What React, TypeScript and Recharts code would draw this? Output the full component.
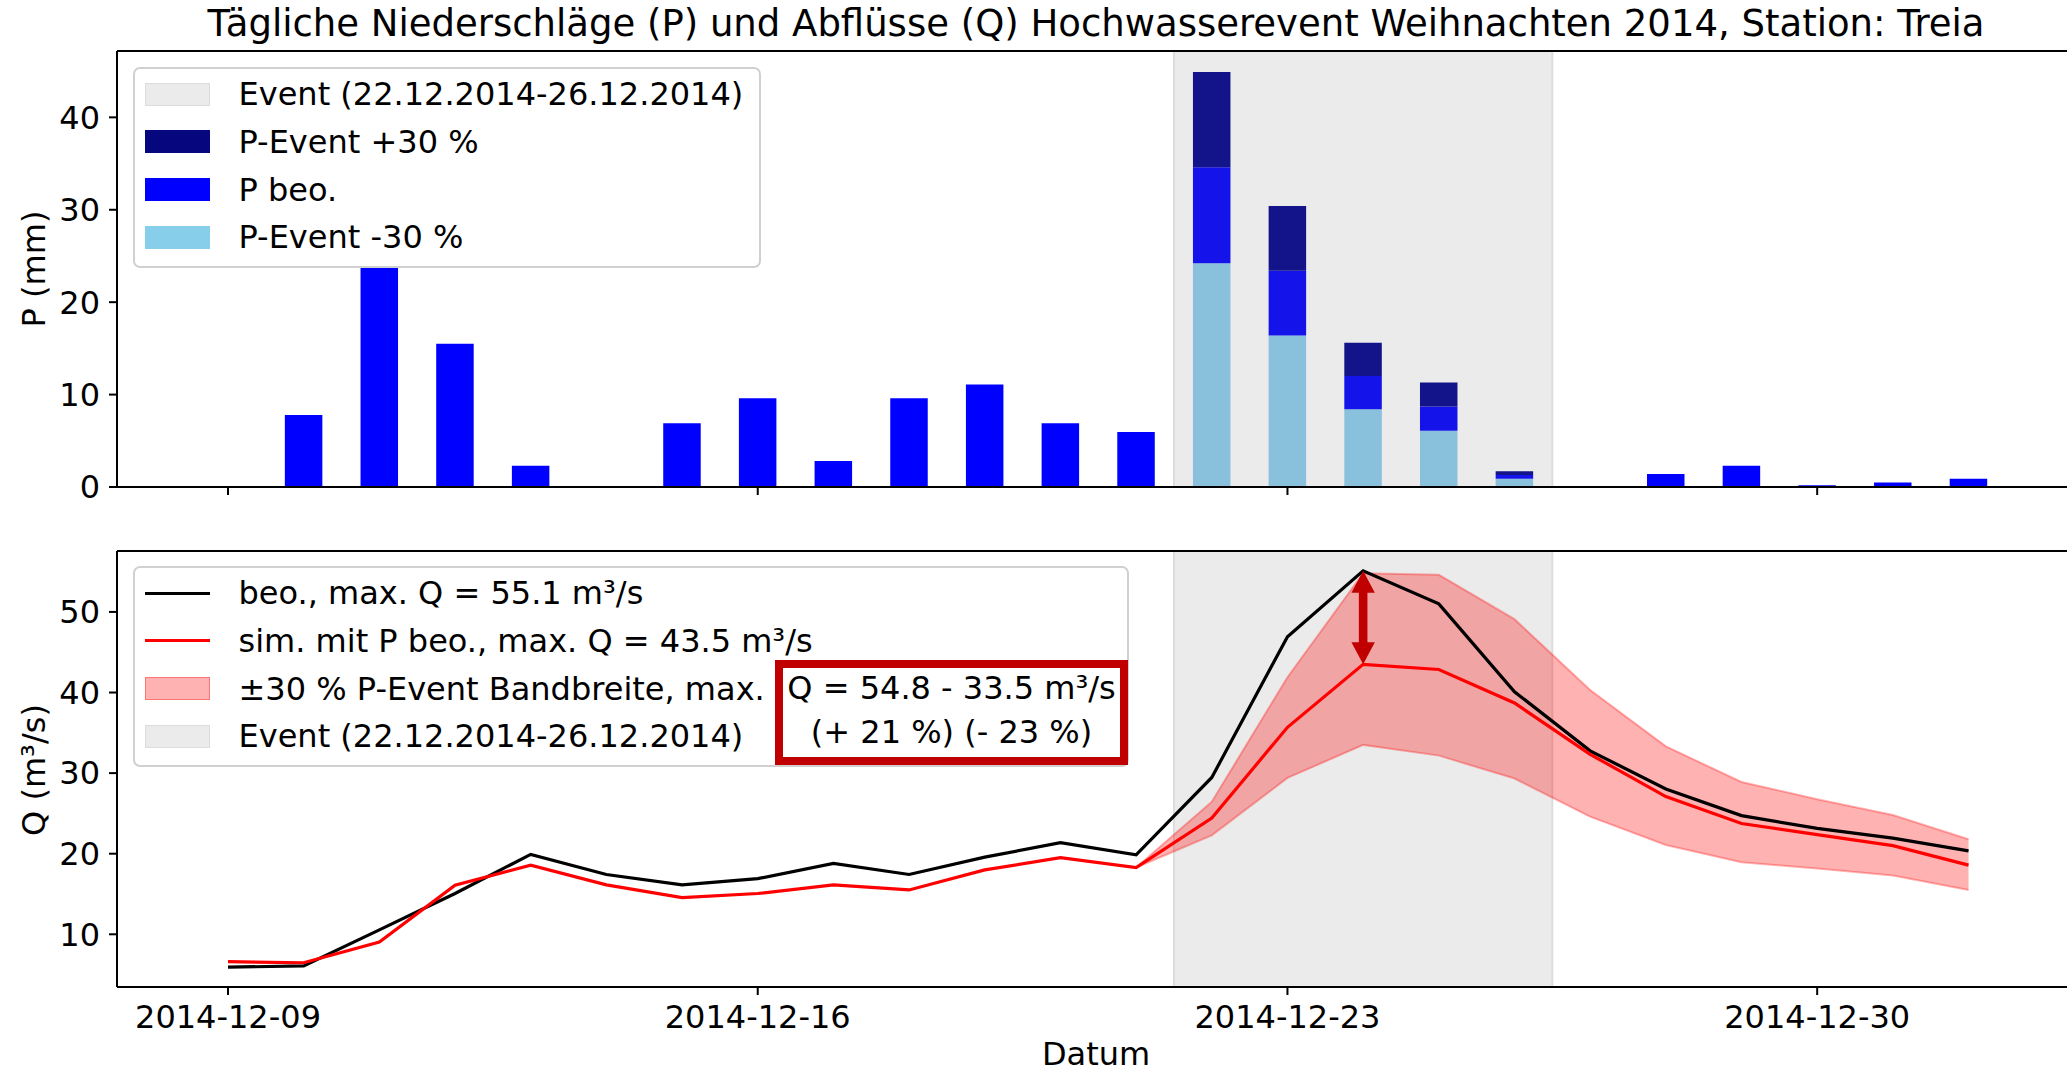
import React from 'react';
import {
  ComposedChart,
  Bar,
  Cell,
  Line,
  Area,
  XAxis,
  YAxis,
  ReferenceArea,
  ReferenceLine,
} from 'recharts';

const FONT = '"DejaVu Sans", sans-serif';

// one entry per day, index = x position on the axis
const dates = [
  '2014-12-09', '2014-12-10', '2014-12-11', '2014-12-12', '2014-12-13', '2014-12-14',
  '2014-12-15', '2014-12-16', '2014-12-17', '2014-12-18', '2014-12-19', '2014-12-20',
  '2014-12-21', '2014-12-22', '2014-12-23', '2014-12-24', '2014-12-25', '2014-12-26',
  '2014-12-27', '2014-12-28', '2014-12-29', '2014-12-30', '2014-12-31', '2015-01-01',
];

// precipitation (mm)
const pBeo = [0, 7.8, 23.8, 15.5, 2.3, 0, 6.9, 9.6, 2.8, 9.6, 11.1, 6.9, 5.95, 34.6, 23.4, 12.0, 8.7, 1.3, 0, 1.4, 2.3, 0.2, 0.5, 0.9];
const pPlus30 = [null, null, null, null, null, null, null, null, null, null, null, null, null, 44.9, 30.4, 15.6, 11.3, 1.7, null, null, null, null, null, null];
const pMinus30 = [null, null, null, null, null, null, null, null, null, null, null, null, null, 24.2, 16.4, 8.4, 6.1, 0.9, null, null, null, null, null, null];

// discharge (m³/s)
const qBeo = [5.92, 6.08, 10.55, 15.06, 19.92, 17.42, 16.13, 16.9, 18.8, 17.42, 19.57, 21.38, 19.87, 29.46, 46.93, 55.1, 51.0, 40.1, 32.76, 28.04, 24.73, 23.14, 21.93, 20.35];
const qSim = [6.6, 6.47, 9.05, 16.1, 18.58, 16.13, 14.55, 15.06, 16.13, 15.5, 17.99, 19.5, 18.29, 24.43, 35.68, 43.5, 42.86, 38.7, 32.33, 27.09, 23.74, 22.37, 21.0, 18.58];
const qBandUpper = [null, null, null, null, null, null, null, null, null, null, null, null, 18.29, 26.45, 41.9, 54.8, 54.6, 49.1, 40.32, 33.32, 28.9, 26.75, 24.8, 21.8];
const qBandLower = [null, null, null, null, null, null, null, null, null, null, null, null, 18.29, 22.28, 29.4, 33.5, 32.17, 29.33, 24.6, 21.08, 18.93, 18.16, 17.3, 15.5];

const dateTicks = [0, 7, 14, 21];
const pTicks = [0, 10, 20, 30, 40];
const qTicks = [10, 20, 30, 40, 50];
const eventSpan = [12.5, 17.5];
const peakIndex = 15;

const xDomain = [-1.467, 24.42];
const pDomain = [0, 47.18];
const qDomain = [3.46, 57.56];

const rows = dates.map((d, i) => {
  const inEvent = pPlus30[i] != null;
  const low = inEvent ? (pMinus30[i] as number) : 0;
  return {
    x: i,
    date: d,
    inEvent,
    pLow: low,
    pMid: pBeo[i] - low,
    pHigh: inEvent ? (pPlus30[i] as number) - pBeo[i] : 0,
    qBeo: qBeo[i],
    qSim: qSim[i],
    band: qBandUpper[i] != null ? [qBandLower[i], qBandUpper[i]] : null,
  };
});

const tickStyle = { fill: '#000', fontSize: 32, fontFamily: FONT };
const axisLine = { stroke: '#000', strokeWidth: 2 };

const ArrowShape = (props: any) => {
  const { x1, y1, x2, y2 } = props;
  const x = x1;
  const top = Math.min(y1, y2);
  const bot = Math.max(y1, y2);
  const hw = 11.7;
  const hl = 22;
  const sw = 4.3;
  const pts = [
    [x, top], [x + hw, top + hl], [x + sw, top + hl], [x + sw, bot - hl], [x + hw, bot - hl],
    [x, bot], [x - hw, bot - hl], [x - sw, bot - hl], [x - sw, top + hl], [x - hw, top + hl],
  ].map(p => p.join(',')).join(' ');
  return <polygon points={pts} fill="#c00000" />;
};

type LegendItem = { label: string; kind: 'patch' | 'line'; color: string; edge?: string };

function LegendBox({ left, top, width, items }: { left: number; top: number; width: number; items: LegendItem[] }) {
  return (
    <div
      style={{
        position: 'absolute', left, top, width, height: 201, boxSizing: 'border-box',
        background: '#fff', border: '2px solid #d0d0d0', borderRadius: 7,
      }}
    >
      {items.map((it, i) => {
        const cy = 25.3 + i * 47.6;
        return (
          <React.Fragment key={it.label}>
            {it.kind === 'patch' ? (
              <div style={{
                position: 'absolute', left: 10, top: cy - 11.5, width: 65, height: 23, boxSizing: 'border-box',
                background: it.color, border: `1.5px solid ${it.edge || it.color}`,
              }} />
            ) : (
              <div style={{ position: 'absolute', left: 10, top: cy - 1.6, width: 65, height: 3.2, background: it.color }} />
            )}
            <div style={{
              position: 'absolute', left: 103.5, top: cy - 16, height: 32, lineHeight: '32px',
              fontSize: 32, whiteSpace: 'nowrap', color: '#000',
            }}>{it.label}</div>
          </React.Fragment>
        );
      })}
    </div>
  );
}

const topLegend: LegendItem[] = [
  { label: 'Event (22.12.2014-26.12.2014)', kind: 'patch', color: '#ebebeb', edge: '#dcdcdc' },
  { label: 'P-Event +30 %', kind: 'patch', color: '#06067f' },
  { label: 'P beo.', kind: 'patch', color: '#0000ff' },
  { label: 'P-Event -30 %', kind: 'patch', color: '#87ceeb' },
];

const bottomLegend: LegendItem[] = [
  { label: 'beo., max. Q = 55.1 m³/s', kind: 'line', color: '#000' },
  { label: 'sim. mit P beo., max. Q = 43.5 m³/s', kind: 'line', color: '#ff0000' },
  { label: '±30 % P-Event Bandbreite, max.', kind: 'patch', color: 'rgba(255,0,0,0.3)', edge: 'rgba(255,0,0,0.35)' },
  { label: 'Event (22.12.2014-26.12.2014)', kind: 'patch', color: '#ebebeb', edge: '#dcdcdc' },
];

export default function App() {
  return (
    <div
      style={{
        position: 'absolute', left: 0, top: 0, width: 2067, height: 1073, overflow: 'hidden',
        background: '#fff', fontFamily: FONT,
      }}
    >
      <div style={{
        position: 'absolute', left: 0, top: 5, width: 2192, textAlign: 'center',
        fontSize: 37, lineHeight: '37px', whiteSpace: 'nowrap', color: '#000',
      }}>
        Tägliche Niederschläge (P) und Abflüsse (Q) Hochwasserevent Weihnachten 2014, Station: Treia
      </div>

      {/* precipitation panel */}
      <div style={{ position: 'absolute', left: 0, top: 0 }}>
        <ComposedChart width={2090} height={520} data={rows} margin={{ top: 51, right: 14, bottom: 0, left: 0 }}>
          <ReferenceArea x1={eventSpan[0]} x2={eventSpan[1]} fill="#ebebeb" fillOpacity={1} stroke="#dcdcdc" strokeWidth={2} zIndex={50} />
          <XAxis dataKey="x" type="number" domain={xDomain} allowDataOverflow ticks={dateTicks} interval={0}
            tickFormatter={() => ''} height={33} tickSize={8} axisLine={axisLine} tickLine={axisLine} tick={tickStyle} />
          <YAxis type="number" domain={pDomain} allowDataOverflow ticks={pTicks} interval={0} width={117}
            tickSize={8} tickMargin={9} axisLine={axisLine} tickLine={axisLine} tick={tickStyle} />
          <Bar dataKey="pLow" stackId="p" barSize={37.5} fill="#89c0dc" isAnimationActive={false} />
          <Bar dataKey="pMid" stackId="p" barSize={37.5} isAnimationActive={false}>
            {rows.map(r => <Cell key={r.date} fill={r.inEvent ? '#1414ea' : '#0000ff'} />)}
          </Bar>
          <Bar dataKey="pHigh" stackId="p" barSize={37.5} fill="#13138a" isAnimationActive={false} />
          <ReferenceLine y={pDomain[1]} stroke="#000" strokeWidth={2} ifOverflow="visible" zIndex={1500} />
        </ComposedChart>
      </div>

      {/* discharge panel */}
      <div style={{ position: 'absolute', left: 0, top: 500 }}>
        <ComposedChart width={2090} height={573} data={rows} margin={{ top: 51, right: 14, bottom: 0, left: 0 }}>
          <ReferenceArea x1={eventSpan[0]} x2={eventSpan[1]} fill="#ebebeb" fillOpacity={1} stroke="#dcdcdc" strokeWidth={2} zIndex={50} />
          <XAxis dataKey="x" type="number" domain={xDomain} allowDataOverflow ticks={dateTicks} interval={0}
            tickFormatter={(v: number) => dates[v]} height={86} tickSize={8} tickMargin={10}
            axisLine={axisLine} tickLine={axisLine} tick={tickStyle} />
          <YAxis type="number" domain={qDomain} allowDataOverflow ticks={qTicks} interval={0} width={117}
            tickSize={8} tickMargin={9} axisLine={axisLine} tickLine={axisLine} tick={tickStyle} />
          <Area dataKey="band" type="linear" fill="#ff0000" fillOpacity={0.3} stroke="#ff0000" strokeOpacity={0.3}
            strokeWidth={2} dot={false} activeDot={false} isAnimationActive={false} />
          <Line dataKey="qBeo" type="linear" stroke="#000" strokeWidth={3.2} dot={false} activeDot={false} isAnimationActive={false} />
          <Line dataKey="qSim" type="linear" stroke="#ff0000" strokeWidth={3.2} dot={false} activeDot={false} isAnimationActive={false} />
          <ReferenceLine
            segment={[{ x: peakIndex, y: qBeo[peakIndex] }, { x: peakIndex, y: qSim[peakIndex] }]}
            shape={ArrowShape} ifOverflow="visible" zIndex={1500}
          />
          <ReferenceLine y={qDomain[1]} stroke="#000" strokeWidth={2} ifOverflow="visible" zIndex={1500} />
        </ComposedChart>
      </div>

      {/* axis titles */}
      <div style={{
        position: 'absolute', left: 34, top: 269, transform: 'translate(-50%, -50%) rotate(-90deg)',
        fontSize: 32, lineHeight: '32px', whiteSpace: 'nowrap',
      }}>P (mm)</div>
      <div style={{
        position: 'absolute', left: 34, top: 770, transform: 'translate(-50%, -50%) rotate(-90deg)',
        fontSize: 32, lineHeight: '32px', whiteSpace: 'nowrap',
      }}>Q (m³/s)</div>
      <div style={{
        position: 'absolute', left: 1096, top: 1040, transform: 'translateX(-50%)',
        fontSize: 32, lineHeight: '28px', height: 28, whiteSpace: 'nowrap',
      }}>Datum</div>

      <LegendBox left={133} top={67} width={628} items={topLegend} />
      <LegendBox left={133} top={566} width={996} items={bottomLegend} />

      {/* annotation box */}
      <div style={{
        position: 'absolute', left: 775, top: 660, width: 353, height: 105, boxSizing: 'border-box',
        border: '8px solid #c00000', background: '#fff', textAlign: 'center', fontSize: 32, color: '#000',
      }}>
        <div style={{ lineHeight: '44px', marginTop: -2, whiteSpace: 'nowrap' }}>Q = 54.8 - 33.5 m³/s</div>
        <div style={{ lineHeight: '44px', whiteSpace: 'nowrap' }}>(+ 21 %) (- 23 %)</div>
      </div>
    </div>
  );
}
